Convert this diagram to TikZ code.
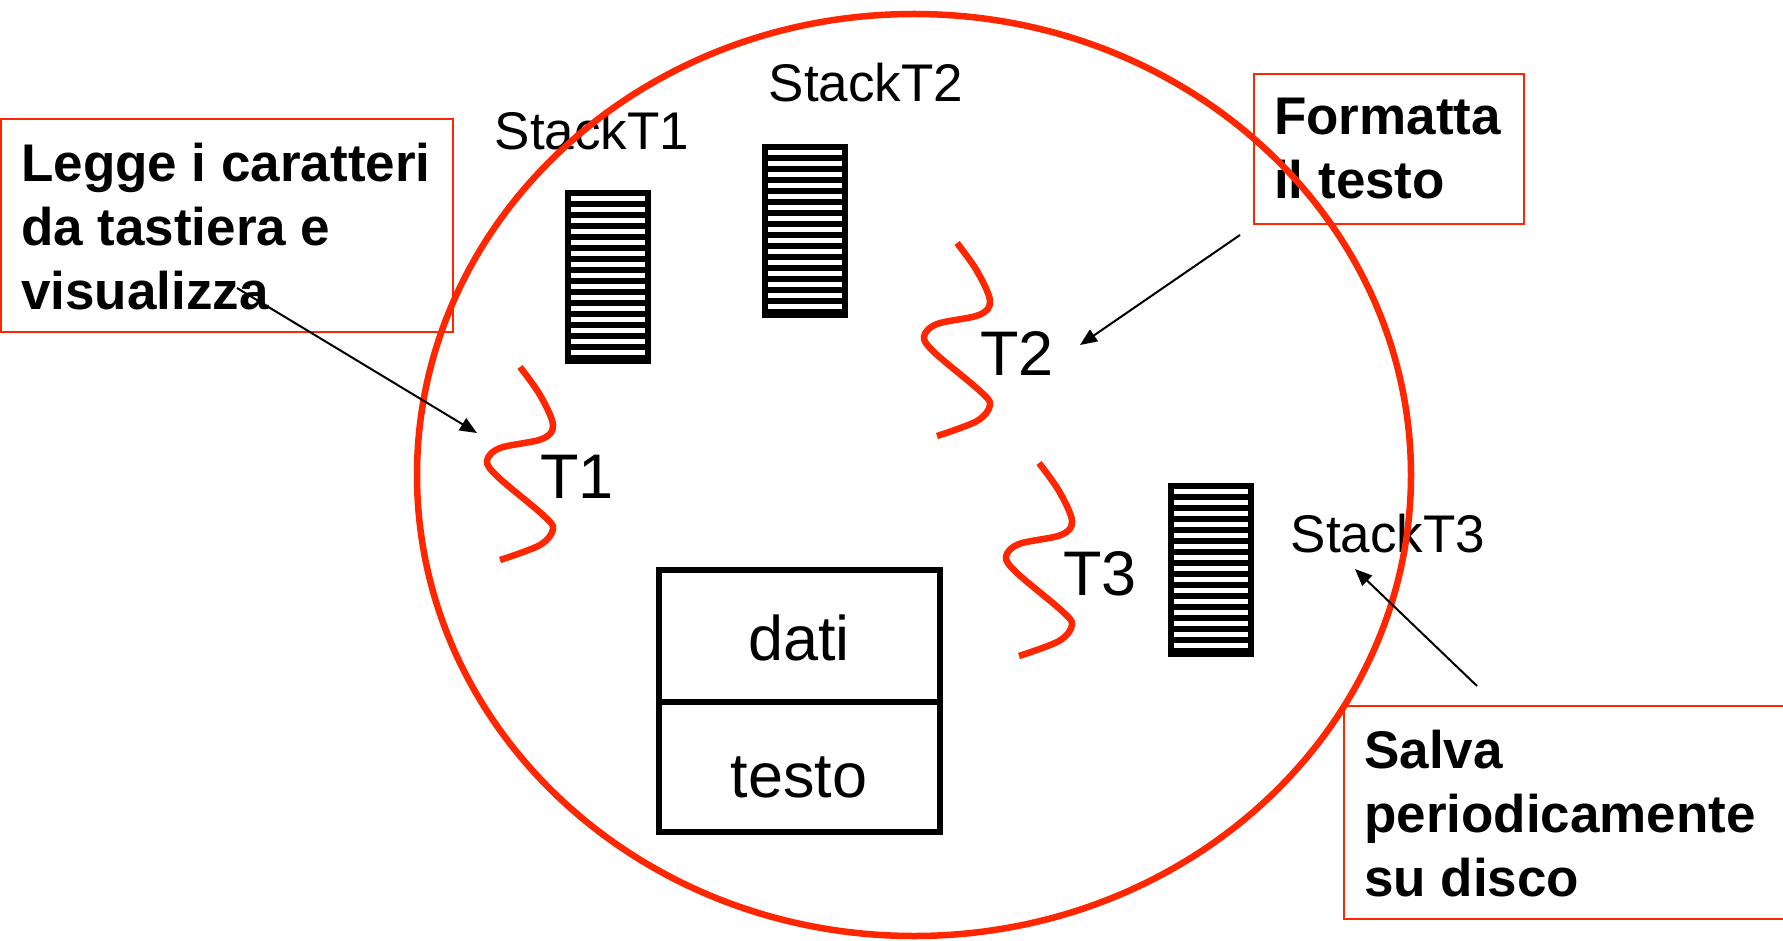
\documentclass[tikz,border=0pt]{standalone}
\usepackage{fontspec}
\setmainfont{Liberation Sans}
\usetikzlibrary{arrows.meta}
\definecolor{pred}{HTML}{FF2600}
\tikzset{
  stackbox/.style={fill=black, draw=none, inner sep=0pt, outer sep=0pt, minimum width=86pt, minimum height=174pt, anchor=north west},
  callout/.style={draw=pred, line width=2pt, inner sep=0pt, anchor=north west},
  calltext/.style={anchor=base west, inner sep=0pt, font=\fontsize{53}{64}\selectfont\bfseries},
  biglbl/.style={anchor=base, inner sep=0pt, font=\fontsize{63}{70}\selectfont},
  stacklbl/.style={anchor=base, inner sep=0pt, font=\fontsize{53}{60}\selectfont},
  wave/.style={draw=pred, line width=6.5pt},
  memline/.style={draw=black, line width=6pt, inner sep=0pt, outer sep=0pt, anchor=north west},
  pointer/.style={draw=black, line width=2pt, -{Triangle[length=17pt,width=14pt]}}
}
\begin{document}
\begin{tikzpicture}[x=1pt,y=-1pt]
\useasboundingbox (0,0) rectangle (1783,941);
\fill[white] (0,0) rectangle (1783,941);

% callout boxes
\node[callout, minimum width=452pt, minimum height=213pt] (b1) at (0,118) {};
\node[callout, minimum width=270pt, minimum height=150pt] (b2) at (1253,73) {};
\node[callout, minimum width=460pt, minimum height=213pt] (b3) at (1343,705) {};

\node[calltext] (t1) at (21,182) {\begin{tabular}[t]{@{}l@{}}Legge i caratteri\\da tastiera e\\visualizza\end{tabular}};
\node[calltext] (t2) at (1274,135) {\begin{tabular}[t]{@{}l@{}}Formatta\\il testo\end{tabular}};
\node[calltext] (t3) at (1364,768) {\begin{tabular}[t]{@{}l@{}}Salva\\periodicamente\\su disco\end{tabular}};

% stacks
\node[stackbox] (s1) at (565,190) {};
\node[stackbox] (s2) at (762,144) {};
\node[stackbox] (s3) at (1168,483) {};
\foreach \s in {s1,s2,s3}{
  \foreach \i in {0,...,14}{
    \fill[white] ([shift={(6,6+11*\i)}]\s.north west) rectangle ++(74,5);
  }
}
\node[stacklbl] (l1) at (592,150) {StackT1};
\node[stacklbl] (l2) at (866,102) {StackT2};
\node[stacklbl] (l3) at (1388,552) {StackT3};

% threads
\foreach \ox/\oy in {520/367, 957/243, 1039/463}{
  \draw[wave] plot[smooth, tension=0.55] coordinates {
    (\ox+0,\oy+0) (\ox+20,\oy+28) (\ox+33,\oy+58) (\ox+22,\oy+72) (\ox-20,\oy+81)
    (\ox-33,\oy+94) (\ox-22,\oy+110) (\ox+23,\oy+148) (\ox+33,\oy+162)
    (\ox+20,\oy+178) (\ox-20,\oy+193)};
}
\node[biglbl] (T1) at (577,498) {T1};
\node[biglbl] (T2) at (1017,375) {T2};
\node[biglbl] (T3) at (1100,595) {T3};

% memory
\node[memline, minimum width=281pt, minimum height=132pt] (dati) at (659,570) {};
\node[memline, minimum width=281pt, minimum height=130pt] (testo) at (659,702) {};
\node[biglbl] (dl) at (799,660) {dati};
\node[biglbl] (tl) at (799,797) {testo};

% process circle
\draw[pred, line width=6.5pt] (914,475) ellipse [x radius=497pt, y radius=461pt];

% pointers
\coordinate (a1) at (237,288);
\coordinate (e1) at (477,433);
\coordinate (a2) at (1240,235);
\coordinate (e2) at (1080,345);
\coordinate (a3) at (1477,686);
\coordinate (e3) at (1355,569);
\draw[pointer] (a1) -- (e1);
\draw[pointer] (a2) -- (e2);
\draw[pointer] (a3) -- (e3);
\end{tikzpicture}
\end{document}
